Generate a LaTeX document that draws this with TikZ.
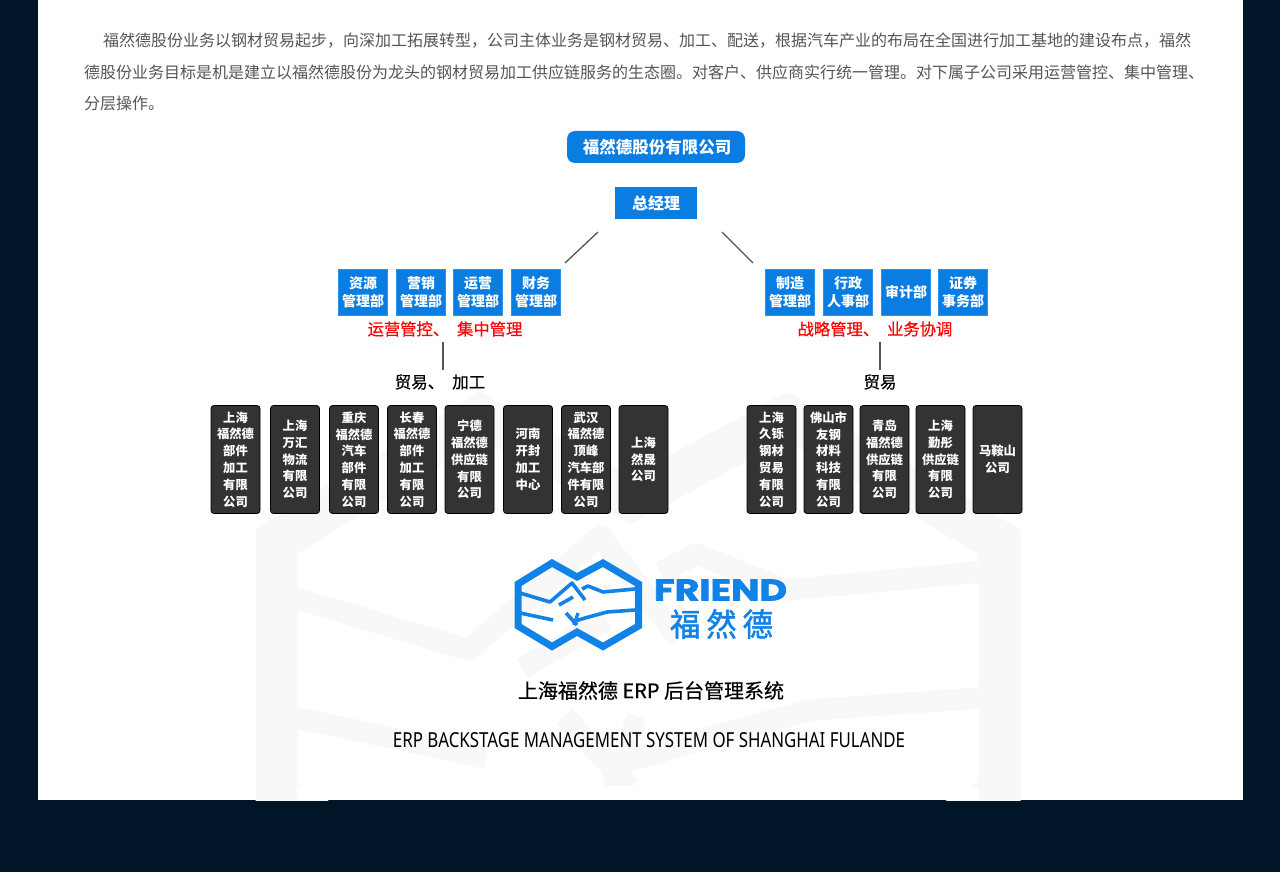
\documentclass[tikz,border=0pt]{standalone}
\usepackage{fontspec}
\usepackage{graphicx}
\setmainfont{Noto Sans CJK SC}
\newfontfamily\cjkmed[FakeBold=0.5]{Noto Sans CJK SC}
\newfontfamily\cjkheavy[FakeBold=1.6]{Noto Sans CJK SC}
\newfontfamily\latinlogo[FakeBold=2]{Poppins}
\newfontfamily\latinsys{Noto Sans}
\definecolor{navybg}{HTML}{011528}
\definecolor{blueb}{HTML}{0A7DE3}
\definecolor{logoblue}{HTML}{1182E6}
\definecolor{darkb}{HTML}{333333}
\definecolor{bodygray}{HTML}{555555}
\definecolor{wmark}{HTML}{F8F8F8}
\definecolor{linegray}{HTML}{555555}
\tikzset{
 darkbox/.style={draw=black,line width=0.8pt,fill=darkb,rounded corners=3pt,minimum height=108pt,inner sep=0pt,outer sep=0pt,text=white,align=center,font=\fontsize{12.3}{16.8}\selectfont\bfseries},
 bluebox/.style={draw=blueb!85!white,line width=0.8pt,fill=blueb,minimum height=46pt,minimum width=49.5pt,inner sep=0pt,outer sep=0pt,text=white,align=center,font=\fontsize{14}{18.3}\selectfont\bfseries},
 bodyline/.style={anchor=west,inner sep=0pt,text=bodygray,font=\fontsize{16}{16}\selectfont},
 redlabel/.style={inner sep=0pt,text=red,font=\fontsize{16.3}{16.3}\selectfont\cjkmed},
 blacklabel/.style={inner sep=0pt,text=black,font=\fontsize{16.5}{16.5}\selectfont\cjkmed},
 conn/.style={draw=linegray,line width=1.3pt},
}
\newcommand{\logoart}[2]{%
 \draw[#1,line width=7*#2,line join=miter] (518,584) -- (552,563) -- (577,577) -- (603,563) -- (638.5,584) -- (638.5,626) -- (603,646.5) -- (577,632) -- (552,646.5) -- (518,626) -- cycle;
 \draw[#1,line width=3.6*#2,line join=round] (520,593) -- (550,602) -- (572,583) -- (585,600);
 \draw[#1,line width=3.6*#2,line join=round] (582,589) -- (588,586) -- (603,592) -- (635,589);
 \draw[#1,line width=3.6*#2] (520,613) -- (553,620);
 \draw[#1,line width=3.6*#2] (559,605) -- (573,597);
 \draw[#1,line width=3.6*#2,line join=round] (635,610) -- (607,612) -- (585,618) -- (572,622);
 \draw[#1,line width=3.6*#2] (566,613) -- (577,625);
 \draw[#1,line width=3.2*#2] (578,613) -- (574,625);
}
\begin{document}
\begin{tikzpicture}[x=1pt,y=-1pt]
\useasboundingbox (0,0) rectangle (1280,872);
\fill[navybg] (0,0) rectangle (1280,872);
\fill[white] (38,0) rectangle (1243,800);
\begin{scope}
 \clip (38,0) rectangle (1243,800);
 \begin{scope}[shift={(636.5,665)},scale=6,shift={(-578,-604.5)}]
  \logoart{wmark}{6pt}
 \end{scope}
 \fill[white] (297,786) rectangle (979,800);
\end{scope}

\node[bodyline] (t1) at (103,41) {福然德股份业务以钢材贸易起步，向深加工拓展转型，公司主体业务是钢材贸易、加工、配送，根据汽车产业的布局在全国进行加工基地的建设布点，福然};
\node[bodyline] (t2) at (84,72) {德股份业务目标是机是建立以福然德股份为龙头的钢材贸易加工供应链服务的生态圈。对客户、供应商实行统一管理。对下属子公司采用运营管控、集中管理、};
\node[bodyline] (t3) at (84,103) {分层操作。};

\node[fill=blueb,rounded corners=8pt,minimum width=178pt,minimum height=32pt,inner sep=0pt,text=white,font=\fontsize{16.5}{16.5}\selectfont\bfseries] (co) at (656,147) {\hspace{2pt}福然德股份有限公司};
\node[fill=blueb,minimum width=82pt,minimum height=32pt,inner sep=0pt,text=white,font=\fontsize{16}{16}\selectfont\bfseries] (gm) at (656,203) {总经理};

\coordinate (la) at (598,232); \coordinate (lb) at (565,263);
\coordinate (ra) at (722,232); \coordinate (rb) at (753,263);
\draw[conn] (la) -- (lb);
\draw[conn] (ra) -- (rb);

\node[bluebox] (b1) at (363,292.5) {资源\\管理部};
\node[bluebox] (b2) at (421,292.5) {营销\\管理部};
\node[bluebox] (b3) at (478,292.5) {运营\\管理部};
\node[bluebox] (b4) at (536,292.5) {财务\\管理部};
\node[bluebox] (b5) at (790,292.5) {制造\\管理部};
\node[bluebox] (b6) at (848,292.5) {行政\\人事部};
\node[bluebox] (b7) at (906,292.5) {审计部};
\node[bluebox] (b8) at (963,292.5) {证券\\事务部};

\node[redlabel] (r1) at (445,329) {运营管控、\hspace{8pt}集中管理};
\node[redlabel] (r2) at (875,329) {战略管理、\hspace{8pt}业务协调};

\coordinate (v1a) at (443,342); \coordinate (v1b) at (443,370);
\coordinate (v2a) at (880,342); \coordinate (v2b) at (880,370);
\draw[conn] (v1a) -- (v1b);
\draw[conn] (v2a) -- (v2b);

\node[blacklabel] (k1) at (440,382) {贸易、\hspace{8pt}加工};
\node[blacklabel] (k2) at (880,382) {贸易};

\node[darkbox,minimum width=49pt] (d1) at (235.5,459.5) {上海\\福然德\\部件\\加工\\有限\\公司};
\node[darkbox,minimum width=49pt] (d2) at (295,459.5) {上海\\万汇\\物流\\有限\\公司};
\node[darkbox,minimum width=49pt] (d3) at (354,459.5) {重庆\\福然德\\汽车\\部件\\有限\\公司};
\node[darkbox,minimum width=49pt] (d4) at (412,459.5) {长春\\福然德\\部件\\加工\\有限\\公司};
\node[darkbox,minimum width=49pt] (d5) at (469.5,459.5) {宁德\\福然德\\供应链\\有限\\公司};
\node[darkbox,minimum width=49pt] (d6) at (528,459.5) {河南\\开封\\加工\\中心};
\node[darkbox,minimum width=49pt] (d7) at (586,459.5) {武汉\\福然德\\顶峰\\汽车部\\件有限\\公司};
\node[darkbox,minimum width=49pt] (d8) at (643.5,459.5) {上海\\然晟\\公司};

\node[darkbox,minimum width=49pt] (e1) at (771.5,459.5) {上海\\久铄\\钢材\\贸易\\有限\\公司};
\node[darkbox,minimum width=49pt] (e2) at (828.5,459.5) {佛山市\\友钢\\材料\\科技\\有限\\公司};
\node[darkbox,minimum width=49pt] (e3) at (884.5,459.5) {青岛\\福然德\\供应链\\有限\\公司};
\node[darkbox,minimum width=49pt] (e4) at (940.5,459.5) {上海\\勤彤\\供应链\\有限\\公司};
\node[darkbox,minimum width=49pt] (e5) at (997.5,459.5) {马鞍山\\公司};

\logoart{logoblue}{1pt}
\node[inner sep=0pt,text=logoblue,anchor=center] (fr) at (720.5,590) {\resizebox{133pt}{21pt}{\latinlogo\bfseries FRIEND}};
\node[inner sep=0pt,text=logoblue,anchor=center] (fc) at (721.5,624) {\resizebox{103pt}{27pt}{\cjkheavy 福\hspace{2pt}然\hspace{2pt}德}};

\node[inner sep=0pt,text=black,font=\fontsize{20}{20}\selectfont\cjkmed] (s1) at (651,690.5) {上海福然德 ERP 后台管理系统};
\node[inner sep=0pt,text=black] (s2) at (649,740) {\resizebox{512pt}{15pt}{\latinsys ERP BACKSTAGE MANAGEMENT SYSTEM OF SHANGHAI FULANDE}};
\end{tikzpicture}
\end{document}
